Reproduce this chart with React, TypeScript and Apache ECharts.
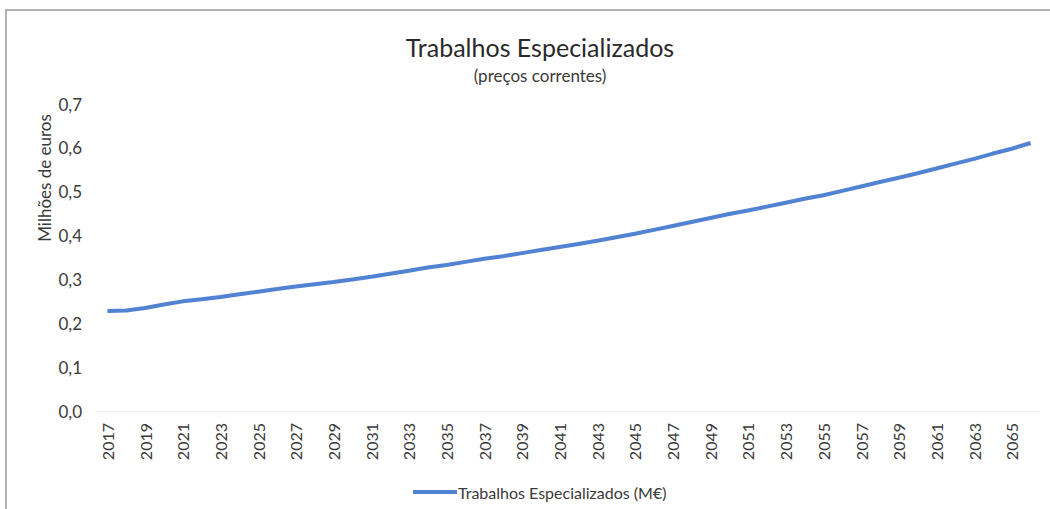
import React, { useEffect, useRef } from "react";
import * as echarts from "echarts";

const years: string[] = [];
for (let y = 2017; y <= 2066; y++) years.push(String(y));

const values = [
  0.228, 0.229, 0.235, 0.243, 0.25, 0.255, 0.26, 0.266, 0.272, 0.278,
  0.284, 0.289, 0.294, 0.3, 0.306, 0.313, 0.32, 0.327, 0.333, 0.34,
  0.347, 0.353, 0.36, 0.367, 0.374, 0.381, 0.388, 0.396, 0.404, 0.413,
  0.422, 0.431, 0.44, 0.449, 0.457, 0.466, 0.475, 0.484, 0.492, 0.502,
  0.512, 0.522, 0.532, 0.542, 0.553, 0.564, 0.575, 0.587, 0.598, 0.611,
];

const title = "Trabalhos Especializados";
const subtitle = "(preços correntes)";
const seriesName = "Trabalhos Especializados (M€)";
const yName = "Milhões de euros";

const FONT = "Lato, 'Open Sans', sans-serif";
const TEXT = "#3a3a3a";
const LINE = "#5283d2";

export default function App() {
  const ref = useRef<HTMLDivElement>(null);
  useEffect(() => {
    if (!ref.current) return;
    const chart = echarts.init(ref.current, null, { renderer: "svg" });
    chart.setOption({
      animation: false,
      backgroundColor: "#ffffff",
      textStyle: { fontFamily: FONT, color: TEXT },
      title: [
        {
          text: title,
          left: 535,
          top: 29,
          textAlign: "center",
          textStyle: { fontFamily: FONT, fontSize: 25, fontWeight: "normal", color: "#2a2a2a" },
        },
        {
          text: subtitle,
          left: 535,
          top: 62,
          textAlign: "center",
          textStyle: { fontFamily: FONT, fontSize: 17, fontWeight: "normal", color: TEXT },
        },
      ],
      legend: {
        left: 408,
        top: 479,
        itemWidth: 44,
        itemHeight: 4,
        itemGap: 2,
        icon: "rect",
        textStyle: { fontFamily: FONT, fontSize: 16, color: TEXT, padding: [0, 0, 0, -4] },
        data: [seriesName],
      },
      grid: { left: 98, right: 10, top: 104, bottom: 98, containLabel: false },
      xAxis: {
        type: "category",
        data: years,
        boundaryGap: true,
        axisLine: { show: true, lineStyle: { color: "#eeeeee", width: 1 } },
        axisTick: { show: false },
        axisLabel: {
          rotate: 90,
          interval: 1,
          margin: 12,
          fontFamily: FONT,
          fontSize: 16,
          color: TEXT,
        },
      },
      yAxis: {
        type: "value",
        min: 0,
        max: 0.7,
        interval: 0.1,
        splitLine: { show: false },
        axisLine: { show: false },
        axisTick: { show: false },
        axisLabel: {
          margin: 16,
          fontFamily: FONT,
          fontSize: 17,
          color: TEXT,
          formatter: (v: number) => v.toFixed(1).replace(".", ","),
        },
      },
      graphic: [
        {
          type: "rect",
          shape: { x: 6, y: 10, width: 1100, height: 600 },
          style: { fill: "none", stroke: "#9a9a9a", lineWidth: 1.5 },
          silent: true,
        },
        {
          type: "text",
          x: 44,
          y: 178,
          rotation: Math.PI / 2,
          style: {
            text: yName,
            font: `17px ${FONT}`,
            fill: TEXT,
            align: "center",
            verticalAlign: "middle",
          },
        },
      ],
      series: [
        {
          name: seriesName,
          type: "line",
          data: values,
          showSymbol: false,
          symbol: "none",
          lineStyle: { color: LINE, width: 4 },
          itemStyle: { color: LINE },
        },
      ],
    });
    return () => chart.dispose();
  }, []);
  return (
    <div
      ref={ref}
      style={{ position: "fixed", left: 0, top: 0, width: 1050, height: 509 }}
    />
  );
}
